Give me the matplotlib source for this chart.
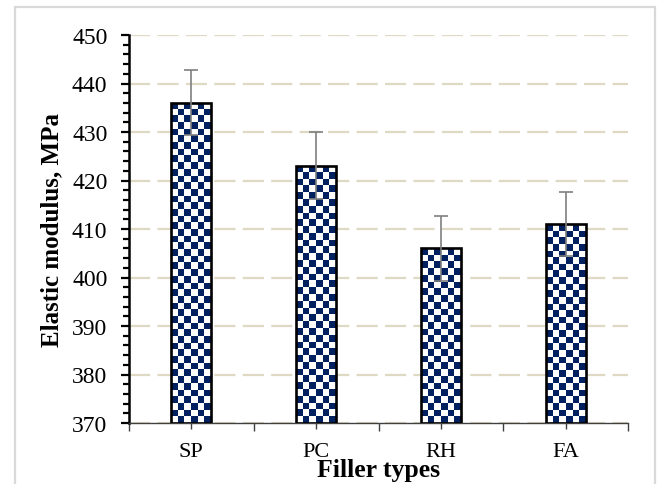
import numpy as np
import matplotlib
matplotlib.use("Agg")
import matplotlib.pyplot as plt
from matplotlib.patches import Rectangle
from matplotlib.ticker import MultipleLocator, FixedLocator

# data
fillers = ["SP", "PC", "RH", "FA"]
modulus = [436, 423, 406, 411]
modulus_err = [6.7, 6.9, 6.7, 6.6]

plt.rcParams['font.family'] = ['Liberation Serif', 'DejaVu Serif']

fig = plt.figure(figsize=(6.62, 4.85), dpi=100)
ax = fig.add_axes([129 / 662, 61 / 485, 499 / 662, 388 / 485])

# light grey outer frame of the chart area
frame = Rectangle((15 / 662, -0.05), 640 / 662, 1.05 - 8 / 485, transform=fig.transFigure,
                  fill=False, edgecolor='#d9d9d9', linewidth=1.6, clip_on=False)
fig.patches.append(frame)

x = np.arange(len(fillers))
width = 0.32
ymin, ymax = 370, 450
ax.set_xlim(-0.5, len(fillers) - 0.5)
ax.set_ylim(ymin, ymax)

bars = ax.bar(x, np.array(modulus) - ymin, width, bottom=ymin, color='white',
              edgecolor='none', zorder=2)

# checkerboard fill, clipped to each bar
fig.canvas.draw()
sq = 6.7  # pixel size of one check
for b in bars:
    x0, y0 = b.get_x(), b.get_y()
    w, h = b.get_width(), b.get_height()
    p0 = ax.transData.transform((x0, y0))
    p1 = ax.transData.transform((x0 + w, y0 + h))
    ncol = max(1, int(round((p1[0] - p0[0]) / sq)))
    nrow = max(1, int(round((p1[1] - p0[1]) / sq)))
    board = (np.indices((nrow, ncol)).sum(axis=0) % 2 == 0)
    rgb = np.where(board[..., None], np.array([0, 32, 96]) / 255, np.ones(3))
    im = ax.imshow(rgb, extent=(x0, x0 + w, y0, y0 + h), aspect='auto',
                   interpolation='nearest', zorder=2.5)
    im.set_clip_path(b)

ax.bar(x, np.array(modulus) - ymin, width, bottom=ymin, facecolor='none',
       edgecolor='black', linewidth=1.9, zorder=3)
ax.errorbar(x, modulus, yerr=modulus_err, fmt='none', ecolor='#7f7f7f',
            elinewidth=1.2, capsize=4.7, capthick=1.2, zorder=4)

# grid
ax.yaxis.set_major_locator(MultipleLocator(10))
ax.yaxis.set_minor_locator(MultipleLocator(2))
ax.grid(axis='y', color='#ddd9c3', linewidth=1.6, dashes=(9.5, 3.3))
ax.set_axisbelow(True)

# spines and ticks
for s in ['top', 'right']:
    ax.spines[s].set_visible(False)
ax.spines['left'].set_linewidth(1.8)
ax.spines['left'].set_color('black')
ax.spines['bottom'].set_linewidth(1.0)
ax.spines['bottom'].set_color('#404040')

ax.xaxis.set_major_locator(FixedLocator(np.arange(-0.5, len(fillers), 1.0)))
ax.xaxis.set_minor_locator(FixedLocator(x))
ax.set_xticklabels([])
ax.set_xticks(x, fillers, minor=True)
ax.tick_params(axis='x', which='major', length=6, width=1.0, color='#404040')
ax.tick_params(axis='x', which='minor', length=4, width=1.0, color='#404040',
               labelsize=16, pad=10)
ax.tick_params(axis='y', which='major', length=6, width=1.6, labelsize=17, pad=9.5)
ax.tick_params(axis='y', which='minor', length=4, width=1.6)

ax.set_ylabel('Elastic modulus, MPa', fontsize=18, fontweight='bold', labelpad=6)
ax.set_xlabel('Filler types', fontsize=18.5, fontweight='bold', labelpad=-2.5)

fig.savefig('out.png', dpi=100)
